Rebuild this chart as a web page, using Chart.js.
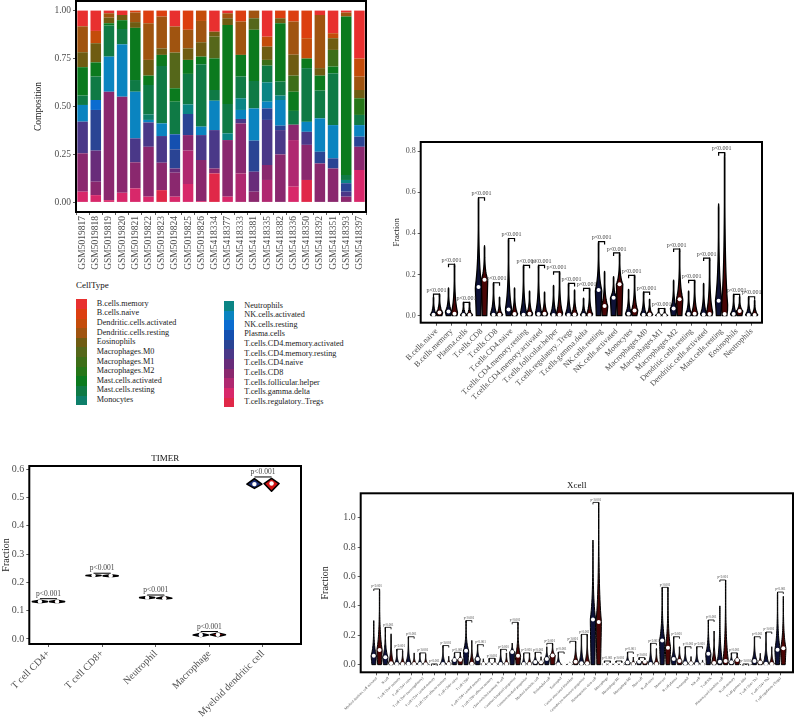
<!DOCTYPE html>
<html>
<head>
<meta charset="utf-8">
<script src="https://cdn.jsdelivr.net/npm/chart.js@4.4.1/dist/chart.umd.min.js"></script>
<style>
  body { margin: 0; width: 797px; height: 721px; position: relative; overflow: hidden; background: #fff; font-family: "Liberation Serif", serif; }
  canvas { position: absolute; }
  .legTitle { position: absolute; left: 76px; top: 280px; font-size: 9px; color: #111; }
  .key { position: absolute; width: 10.5px; }
  .keyText { position: absolute; font-size: 8.2px; color: #1a1a1a; white-space: nowrap; line-height: 10px; }
</style>
</head>
<body>
<canvas id="compChart" width="400" height="280" style="left:0;top:0"></canvas>
<canvas id="ciberChart" width="412" height="300" style="left:385px;top:130px"></canvas>
<canvas id="timerChart" width="325" height="271" style="left:0;top:450px"></canvas>
<canvas id="xcellChart" width="478" height="251" style="left:319px;top:470px"></canvas>
<div class="legTitle">CellType</div>
<div id="legendA"></div>

<script>
// ---- stacked composition (CIBERSORT) ----
const samples = ["GSM5019817","GSM5019818","GSM5019819","GSM5019820","GSM5019821","GSM5019822","GSM5019823","GSM5019824","GSM5019825","GSM5019826",
  "GSM5418334","GSM5418377","GSM5418333","GSM5418381","GSM5418335","GSM5418382","GSM5418336","GSM5418350","GSM5418392","GSM5418351","GSM5418393","GSM5418397"];
const cellTypes = ["B.cells.memory","B.cells.naive","Dendritic.cells.activated","Dendritic.cells.resting","Eosinophils","Macrophages.M0","Macrophages.M1",
  "Macrophages.M2","Mast.cells.activated","Mast.cells.resting","Monocytes","Neutrophils","NK.cells.activated","NK.cells.resting","Plasma.cells",
  "T.cells.CD4.memory.activated","T.cells.CD4.memory.resting","T.cells.CD4.naive","T.cells.CD8","T.cells.follicular.helper","T.cells.gamma.delta","T.cells.regulatory..Tregs"];
const compTicks = [0, 0.25, 0.5, 0.75, 1];

// one value per sample, same order as samples
const bCellsMemory   = [0.082,0.106,0.014,0.023,0,0,0,0.083,0,0,0.11,0.014,0,0,0.136,0,0,0,0.023,0.118,0.01,0.25];
const bCellsNaive    = [0,0,0,0,0.01,0.066,0.031,0,0.1,0,0,0,0.057,0,0,0.04,0.057,0.144,0,0,0,0];
const dcActivated    = [0,0.064,0,0,0,0,0,0,0,0.054,0,0,0,0,0.052,0,0,0.106,0,0.026,0,0.094];
const dcResting      = [0.135,0,0.023,0,0.05,0.191,0.166,0.136,0.097,0.111,0,0.026,0.174,0.04,0,0,0.173,0,0.277,0,0.021,0.07];
const eosinophils    = [0.078,0.1,0.029,0.027,0.03,0.082,0.034,0,0.06,0.075,0.026,0.035,0,0,0.069,0.026,0.109,0,0.039,0.061,0,0.043];
const macroM0        = [0,0,0,0,0,0,0,0.186,0,0,0.113,0,0,0.06,0,0,0,0,0,0,0,0];
const macroM1        = [0,0,0,0,0,0,0,0,0,0,0,0,0,0,0.03,0,0.084,0,0,0.087,0,0];
const macroM2        = [0,0,0,0,0,0,0,0,0,0,0,0,0,0,0,0,0,0,0,0,0,0.087];
const mastActivated  = [0.148,0.074,0.012,0.046,0.272,0.049,0.058,0.07,0.073,0.04,0.165,0.412,0.113,0.267,0,0.304,0.1,0.05,0.078,0.035,0.826,0];
const mastResting    = [0.049,0.122,0.162,0.08,0.061,0.153,0.299,0.17,0.159,0.325,0.056,0.153,0.113,0.143,0.087,0.073,0.072,0.28,0.145,0.27,0.026,0.053];
const monocytes      = [0,0,0,0,0,0.029,0,0,0,0,0,0,0,0,0,0,0,0,0,0,0,0];
const neutrophils    = [0,0,0,0,0,0,0,0,0.05,0,0,0.035,0.061,0,0.101,0.023,0,0,0,0,0.017,0];
const nkActivated    = [0.087,0,0.183,0.273,0.243,0.013,0.066,0,0,0.044,0.153,0,0.047,0.168,0.035,0.134,0,0.052,0.174,0.173,0,0.06];
const nkResting      = [0,0.052,0,0,0,0,0,0,0,0,0,0,0,0,0,0,0,0,0,0,0,0];
const plasmaCells    = [0,0,0,0,0,0,0,0.078,0,0,0,0,0,0,0,0,0,0,0,0,0,0];
const cd4MemActive   = [0,0.212,0,0,0,0,0,0.1,0.11,0,0,0,0,0.162,0.06,0.023,0,0,0.061,0.053,0.044,0.053];
const cd4MemResting  = [0.165,0,0,0,0.125,0.127,0.139,0,0,0.13,0.2,0,0.023,0,0.235,0.127,0,0.068,0,0,0.026,0];
const cd4Naive       = [0,0.162,0,0,0,0,0,0.022,0,0,0,0,0,0.104,0,0,0,0,0,0,0,0];
const cd8            = [0.2,0.07,0.565,0.501,0.136,0.26,0.143,0.125,0.081,0.214,0.026,0.295,0.261,0.056,0.078,0.25,0.08,0.183,0.203,0.177,0.03,0.121];
const follicular     = [0,0,0,0,0,0,0,0,0.174,0,0,0,0.151,0,0.117,0,0.243,0,0,0,0,0];
const gammaDelta     = [0.056,0.038,0.012,0.05,0.073,0.03,0,0.03,0.096,0.007,0,0.03,0,0,0,0,0.082,0,0,0,0,0.169];
const tregs          = [0,0,0,0,0,0,0.064,0,0,0,0.151,0,0,0,0,0,0,0.117,0,0,0,0];

const composition = [bCellsMemory,bCellsNaive,dcActivated,dcResting,eosinophils,macroM0,macroM1,macroM2,mastActivated,mastResting,monocytes,
  neutrophils,nkActivated,nkResting,plasmaCells,cd4MemActive,cd4MemResting,cd4Naive,cd8,follicular,gammaDelta,tregs];

const cellColors = ["#e8302f","#dc3f10","#c44c0a","#a05410","#6f5c12","#55671a","#3d6e18","#267618","#0b7a1e","#0f7a45","#0e7f6a",
  "#0b8585","#0a84c0","#0b6cd0","#1450b0","#2a4494","#4a3888","#682c7a","#8a286e","#b02870","#d8286a","#e02848"];

// ---- CIBERSORT violins ----
const ciberGroups = ["B.cells.naive","B.cells.memory","Plasma.cells","T.cells.CD8","T.cells.CD8","T.cells.CD4.naive","T.cells.CD4.memory.resting",
  "T.cells.CD4.memory.activated","T.cells.follicular.helper","T.cells.regulatory..Tregs","T.cells.gamma.delta","NK.cells.resting","NK.cells.activated",
  "Monocytes","Macrophages.M0","Macrophages.M1","Macrophages.M2","Dendritic.cells.resting","Dendritic.cells.activated","Mast.cells.resting","Eosinophils","Neutrophils"];
const ciberNormalMax = [0.09,0.135,0.065,0.573,0.16,0.375,0.245,0.245,0.147,0.157,0.085,0.36,0.19,0.128,0.115,0.035,0.173,0.12,0.157,0.543,0.104,0.092];
const ciberTumorMax  = [0.105,0.25,0.065,0.34,0.09,0.135,0.12,0.115,0.213,0.125,0.133,0.215,0.305,0.196,0.08,0.035,0.324,0.172,0.28,0.792,0.092,0.075];
const ciberNormalMed = [0.005,0.02,0.003,0.14,0.005,0.03,0.005,0.008,0.004,0.004,0.003,0.125,0.087,0.01,0.005,0.002,0.035,0.008,0.006,0.073,0.008,0.004];
const ciberTumorMed  = [0.015,0.01,0.003,0.175,0.005,0.008,0.01,0.01,0.005,0.006,0.004,0.047,0.153,0.025,0.006,0.002,0.08,0.01,0.008,0.008,0.023,0.004];
const ciberTicks = [0, 0.2, 0.4, 0.6, 0.8];

// ---- TIMER ----
const timerGroups = ["T cell CD4+","T cell CD8+","Neutrophil","Macrophage","Myeloid dendritic cell"];
const timerNormalMed  = [0.132,0.224,0.146,0.014,0.547];
const timerTumorMed   = [0.132,0.223,0.144,0.015,0.549];
const timerNormalLow  = [0.128,0.221,0.142,0.009,0.532];
const timerNormalHigh = [0.137,0.227,0.150,0.020,0.566];
const timerTumorLow   = [0.128,0.220,0.141,0.009,0.522];
const timerTumorHigh  = [0.137,0.227,0.150,0.021,0.567];
const timerTicks = [0, 0.1, 0.2, 0.3, 0.4, 0.5, 0.6];

// ---- xCell ----
const xcellGroups = ["Myeloid dendritic cell activated","B cell","T cell CD4+ memory","T cell CD4+ naive","T cell CD4+ (non-regulatory)",
  "T cell CD4+ central memory","T cell CD4+ effector memory","T cell CD8+ naive","T cell CD8+","T cell CD8+ central memory","T cell CD8+ effector memory",
  "Class-switched memory B cell","Common lymphoid progenitor","Common myeloid progenitor","Myeloid dendritic cell","Endothelial cell","Eosinophil",
  "Cancer associated fibroblast","Granulocyte-monocyte progenitor","Hematopoietic stem cell","Macrophage","Macrophage M1","Macrophage M2","Mast cell",
  "B cell naive","Monocyte","B cell plasma","Neutrophil","NK cell","T cell NK","Plasmacytoid dendritic cell","B cell memory","T cell gamma delta",
  "T cell CD4+ Th1","T cell CD4+ Th2","T cell regulatory (Tregs)"];
const xcellNormalMax = [0.30,0.254,0.105,0.19,0.08,0.005,0.13,0.08,0.30,0.136,0.043,0.104,0.147,0.077,0.084,0.122,0.086,0.018,0.206,0.848,0.025,0.025,
  0.086,0.048,0.145,0.526,0.19,0.122,0.122,0.304,0.40,0.08,0.005,0.19,0.222,0.494];
const xcellTumorMax  = [0.515,0.21,0.095,0.08,0.07,0.005,0.057,0.084,0.165,0.04,0.043,0.08,0.288,0.08,0.054,0.145,0.01,0.159,0.206,1.104,0.025,0.025,
  0.052,0.045,0.11,0.526,0.122,0.055,0.03,0.229,0.576,0.08,0.005,0.077,0.122,0.465];
const xcellNormalMed = [0.061,0.05,0.005,0.006,0.004,0.001,0.005,0.032,0.095,0.039,0.003,0.004,0.086,0.004,0.018,0.039,0.003,0.002,0.01,0.308,0.002,0.002,
  0.014,0.02,0.005,0.165,0.039,0.01,0.005,0.075,0.02,0.016,0.001,0.025,0.006,0.102];
const xcellTumorMed  = [0.10,0.01,0.004,0.004,0.003,0.001,0.004,0.034,0.006,0.004,0.003,0.004,0.061,0.004,0.016,0.063,0.001,0.02,0.01,0.29,0.002,0.002,
  0.005,0.02,0.005,0.115,0.025,0.01,0.003,0.011,0.025,0.032,0.001,0.015,0.005,0.111];
const xcellTicks = [0, 0.2, 0.4, 0.6, 0.8, 1.0];

const pValueLabel = "p<0.001";

Chart.defaults.font.family = '"Liberation Serif", serif';
Chart.defaults.color = '#4d4d4d';
Chart.defaults.animation = false;
Chart.defaults.plugins.legend.display = false;
Chart.defaults.plugins.tooltip.enabled = false;

// black box round every plot area
Chart.register({
  id: 'frame',
  afterDraw(chart) {
    const { ctx, chartArea: a } = chart;
    ctx.save();
    ctx.strokeStyle = '#000';
    ctx.lineWidth = 2;
    ctx.strokeRect(a.left, a.top, a.right - a.left, a.bottom - a.top);
    ctx.restore();
  }
});

// fix axis size and drop the extra label padding chart.js adds
function fixSize(dim, size) {
  return axis => {
    axis[dim] = size;
    axis.paddingTop = axis.paddingBottom = axis.paddingLeft = axis.paddingRight = 0;
  };
}

function tickGrid() {
  return { display: true, drawOnChartArea: false, drawTicks: true, tickLength: 3, tickColor: '#333', tickWidth: 0.8 };
}

//stacked bars
new Chart(document.getElementById('compChart'), {
  type: 'bar',
  data: {
    labels: samples,
    datasets: cellTypes.map((name, i) => ({
      label: name,
      data: composition[i],
      backgroundColor: cellColors[i],
      borderWidth: 0,
      barPercentage: 1,
      categoryPercentage: 0.8
    })).reverse()
  },
  options: {
    responsive: false,
    layout: { padding: { left: 33, right: 34, top: 1, bottom: 0 } },
    scales: {
      x: {
        stacked: true,
        grid: tickGrid(),
        border: { display: false },
        ticks: { autoSkip: false, minRotation: 90, maxRotation: 90, font: { size: 9.5 }, padding: 1 },
        afterFit: fixSize('height', 68)
      },
      y: {
        stacked: true, min: -0.05, max: 1.05,
        afterBuildTicks: axis => { axis.ticks = compTicks.map(v => ({ value: v })); },
        grid: tickGrid(),
        border: { display: false },
        ticks: { callback: v => v.toFixed(2), font: { size: 9.5 }, padding: 2 },
        title: { display: true, text: 'Composition', font: { size: 9.5 }, color: '#222', padding: 0 },
        afterFit: fixSize('width', 43)
      }
    }
  }
});

// legend for the stacked bars, two columns
(function () {
  const box = document.getElementById('legendA');
  cellTypes.forEach((name, i) => {
    const col = i < 11 ? 0 : 1;
    const row = col ? i - 11 : i;
    const left = col ? 223.5 : 76;
    const top = col ? 301 + row * 9.66 : 299.3 + row * 9.62;
    const key = document.createElement('div');
    key.className = 'key';
    key.style.cssText = `left:${left}px;top:${top}px;height:${col ? 9.7 : 9.66}px;background:${cellColors[i]}`;
    const txt = document.createElement('div');
    txt.className = 'keyText';
    txt.style.cssText = `left:${left + 20.8}px;top:${top - 0.5}px`;
    txt.textContent = name;
    box.appendChild(key);
    box.appendChild(txt);
  });
})();

function spikePath(ctx, cx, ys, maxV, medV, halfW) {
  const steps = 30;
  const mm = Math.min(Math.max(medV / maxV, 0.05), 0.85);
  const right = [], left = [];
  for (let s = 0; s <= steps; s++) {
    const t = s / steps;
    let p = t <= mm ? 0.7 + 0.3 * (t / mm) : Math.max(0.07, Math.exp(-4 * (t - mm) / (1 - mm)));
    if (s === steps) p = 0;
    const py = ys.getPixelForValue(t * maxV);
    right.push([cx + halfW * p, py]);
    left.unshift([cx - halfW * p, py]);
  }
  ctx.beginPath();
  right.concat(left).forEach((pt, k) => k ? ctx.lineTo(pt[0], pt[1]) : ctx.moveTo(pt[0], pt[1]));
  ctx.closePath();
}

function diamondPath(ctx, cx, ys, lo, med, hi, halfW) {
  ctx.beginPath();
  ctx.moveTo(cx, ys.getPixelForValue(lo));
  ctx.lineTo(cx + halfW, ys.getPixelForValue(med));
  ctx.lineTo(cx, ys.getPixelForValue(hi));
  ctx.lineTo(cx - halfW, ys.getPixelForValue(med));
  ctx.closePath();
}

// violins under the median points, brackets and p labels on top
function makeViolins(cfg) {
  return {
    id: 'violins',
    beforeDatasetsDraw(chart) {
      const { ctx } = chart, xs = chart.scales.x, ys = chart.scales.y;
      ctx.save();
      ctx.lineJoin = 'round';
      cfg.series.forEach(s => {
        s.max.forEach((mx, i) => {
          const cx = xs.getPixelForValue(i + 1 + s.shift);
          if (cfg.diamond) diamondPath(ctx, cx, ys, s.low[i], s.med[i], mx, cfg.halfWidth);
          else spikePath(ctx, cx, ys, mx, s.med[i], cfg.halfWidth);
          ctx.fillStyle = s.fill;
          ctx.fill();
          ctx.lineWidth = cfg.line;
          ctx.strokeStyle = '#000';
          ctx.stroke();
        });
      });
      ctx.restore();
    },
    afterDatasetsDraw(chart) {
      const { ctx } = chart, xs = chart.scales.x, ys = chart.scales.y;
      const [a, b] = cfg.series;
      ctx.save();
      ctx.strokeStyle = '#000';
      ctx.lineWidth = cfg.bracketLine;
      ctx.fillStyle = '#444';
      ctx.font = cfg.pFont + 'px "Liberation Serif", serif';
      ctx.textAlign = 'center';
      ctx.textBaseline = 'bottom';
      a.max.forEach((_, i) => {
        const x1 = xs.getPixelForValue(i + 1 + a.shift);
        const x2 = xs.getPixelForValue(i + 1 + b.shift);
        const top = ys.getPixelForValue(Math.max(a.max[i], b.max[i])) - cfg.gap;
        ctx.beginPath();
        ctx.moveTo(x1, top + cfg.tip);
        ctx.lineTo(x1, top);
        ctx.lineTo(x2, top);
        ctx.lineTo(x2, top + cfg.tip);
        ctx.stroke();
        ctx.fillText(pValueLabel, (x1 + x2) / 2, top - 1);
      });
      ctx.restore();
    }
  };
}

function medianSet(values, shift, r) {
  return {
    data: values.map((v, i) => ({ x: i + 1 + shift, y: v })),
    pointRadius: r, pointBackgroundColor: '#fff', pointBorderColor: '#fff', pointBorderWidth: 0
  };
}

function violinOptions(o) {
  return {
    responsive: false,
    layout: { padding: o.padding },
    plugins: o.title ? {
      title: { display: true, text: o.title, fullSize: false, color: '#111', font: { size: 9, weight: 'normal' }, padding: o.titlePad }
    } : {},
    scales: {
      x: {
        type: 'linear', min: o.xMin, max: o.xMax,
        afterBuildTicks: axis => { axis.ticks = o.groups.map((_, i) => ({ value: i + 1 })); },
        grid: tickGrid(),
        border: { display: false },
        ticks: { autoSkip: false, minRotation: 45, maxRotation: 45, font: { size: o.xFont }, padding: 1,
          callback: v => o.groups[Math.round(v) - 1] },
        afterFit: fixSize('height', o.xHeight)
      },
      y: {
        min: o.yMin, max: o.yMax,
        afterBuildTicks: axis => { axis.ticks = o.yTicks.map(v => ({ value: v })); },
        grid: tickGrid(),
        border: { display: false },
        ticks: { callback: v => v.toFixed(1), font: { size: o.yFont }, padding: 2 },
        title: { display: true, text: 'Fraction', font: { size: o.yTitleFont }, color: '#222', padding: 0 },
        afterFit: fixSize('width', o.yWidth)
      }
    }
  };
}

// CIBERSORT violins
new Chart(document.getElementById('ciberChart'), {
  type: 'scatter',
  data: { datasets: [medianSet(ciberNormalMed, -0.2, 2), medianSet(ciberTumorMed, 0.2, 2)] },
  options: violinOptions({
    padding: { left: 7, right: 35, top: 12, bottom: 0 }, groups: ciberGroups,
    xMin: -0.053, xMax: 22.69, yMin: -0.034, yMax: 0.844, yTicks: ciberTicks,
    xFont: 8, yFont: 8, yTitleFont: 8.5, xHeight: 107.3, yWidth: 28.7
  }),
  plugins: [makeViolins({
    series: [{ max: ciberNormalMax, med: ciberNormalMed, shift: -0.2, fill: '#0e1238' },
             { max: ciberTumorMax, med: ciberTumorMed, shift: 0.2, fill: '#4a0606' }],
    halfWidth: 3.2, line: 1.3, bracketLine: 1.2, gap: 0, tip: 3, pFont: 6
  })]
});

// TIMER
new Chart(document.getElementById('timerChart'), {
  type: 'scatter',
  data: { datasets: [medianSet(timerNormalMed, -0.16, 2.2), medianSet(timerTumorMed, 0.16, 2.2)] },
  options: violinOptions({
    padding: { left: 0, right: 24, top: 0, bottom: 0 }, groups: timerGroups, title: 'TIMER', titlePad: { top: 3, bottom: 2.2 },
    xMin: 0.642, xMax: 5.709, yMin: -0.0177, yMax: 0.611, yTicks: timerTicks,
    xFont: 10, yFont: 10, yTitleFont: 10, xHeight: 77, yWidth: 29.3
  }),
  plugins: [makeViolins({
    diamond: true,
    series: [{ max: timerNormalHigh, low: timerNormalLow, med: timerNormalMed, shift: -0.16, fill: '#1c2f78' },
             { max: timerTumorHigh, low: timerTumorLow, med: timerTumorMed, shift: 0.16, fill: '#d01414' }],
    halfWidth: 7.5, line: 1.6, bracketLine: 1, gap: 1.5, tip: 0, pFont: 7.5
  })]
});

// xCell
new Chart(document.getElementById('xcellChart'), {
  type: 'scatter',
  data: { datasets: [medianSet(xcellNormalMed, -0.25, 2), medianSet(xcellTumorMed, 0.25, 2)] },
  options: violinOptions({
    padding: { left: 0, right: 2.7, top: 0, bottom: 0 }, groups: xcellGroups, title: 'Xcell', titlePad: { top: 10, bottom: 2.5 },
    xMin: -0.383, xMax: 37.09, yMin: -0.052, yMax: 1.166, yTicks: xcellTicks,
    xFont: 3.5, yFont: 10, yTitleFont: 10, xHeight: 48.7, yWidth: 41.7
  }),
  plugins: [makeViolins({
    series: [{ max: xcellNormalMax, med: xcellNormalMed, shift: -0.25, fill: '#0e1238' },
             { max: xcellTumorMax, med: xcellTumorMed, shift: 0.25, fill: '#4a0606' }],
    halfWidth: 2.7, line: 1, bracketLine: 0.8, gap: 0, tip: 2, pFont: 3.2
  })]
});
</script>
</body>
</html>
